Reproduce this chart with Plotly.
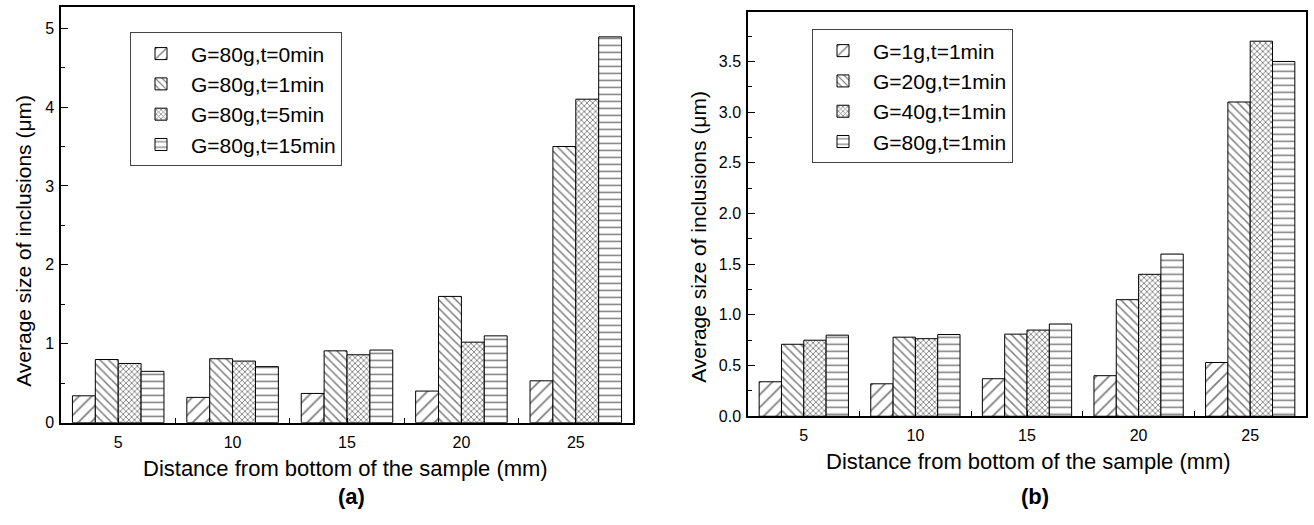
import plotly.graph_objects as go

# Distance from the bottom of the sample (mm)
distance_mm = [5, 10, 15, 20, 25]

# Panel (a): G = 80g, varying holding time
a_names = ["G=80g,t=0min", "G=80g,t=1min", "G=80g,t=5min", "G=80g,t=15min"]
a_t0 = [0.34, 0.32, 0.37, 0.40, 0.53]
a_t1 = [0.80, 0.81, 0.91, 1.60, 3.50]
a_t5 = [0.75, 0.78, 0.86, 1.02, 4.10]
a_t15 = [0.65, 0.71, 0.92, 1.10, 4.89]

# Panel (b): t = 1min, varying G
b_names = ["G=1g,t=1min", "G=20g,t=1min", "G=40g,t=1min", "G=80g,t=1min"]
b_g1 = [0.34, 0.32, 0.37, 0.40, 0.53]
b_g20 = [0.71, 0.78, 0.81, 1.15, 3.10]
b_g40 = [0.75, 0.765, 0.85, 1.40, 3.70]
b_g80 = [0.80, 0.806, 0.91, 1.60, 3.50]

W, H = 1314, 525
FONT = "Liberation Sans, Arial, sans-serif"

# hatch shape, spacing, line solidity for the four series
patterns = [("/", 9, 0.2), ("\\", 6, 0.25), ("x", 4, 0.4), ("-", 7, 0.22)]


def px_x(p):
    return p / W


def px_y(p):
    return 1 - p / H


fig = go.Figure()


def hatched(shape, size, solidity):
    return dict(color="white", line=dict(color="black", width=1),
                pattern=dict(shape=shape, size=size, solidity=solidity,
                             fgcolor="black", bgcolor="white"))


for series, name, pat in zip([a_t0, a_t1, a_t5, a_t15], a_names, patterns):
    fig.add_trace(go.Bar(x=distance_mm, y=series, name=name, xaxis="x", yaxis="y",
                         legend="legend", marker=hatched(*pat)))

for series, name, pat in zip([b_g1, b_g20, b_g40, b_g80], b_names, patterns):
    fig.add_trace(go.Bar(x=distance_mm, y=series, name=name, xaxis="x2", yaxis="y2",
                         legend="legend2", marker=hatched(*pat)))

xaxis_common = dict(
    range=[2.5, 27.5], tickvals=distance_mm, ticks="inside", ticklen=5,
    tickwidth=1, tickcolor="black", showline=True, linecolor="black",
    linewidth=1.5, mirror=True, showgrid=False, zeroline=False,
    ticklabelstandoff=4,
    tickfont=dict(family=FONT, size=16, color="black"),
    minor=dict(tickvals=[7.5, 12.5, 17.5, 22.5], ticks="inside", ticklen=5,
               tickcolor="black", tickwidth=1),
)
yaxis_common = dict(
    ticks="inside", ticklen=7, tickwidth=1, tickcolor="black",
    showline=True, linecolor="black", linewidth=1.5, mirror=True,
    showgrid=False, zeroline=False, ticklabelstandoff=2,
    tickfont=dict(family=FONT, size=16, color="black"),
)

legend_common = dict(
    xanchor="left", yanchor="top", bgcolor="white", bordercolor="#444",
    borderwidth=1, font=dict(family=FONT, size=21, color="black"),
    tracegroupgap=0, itemwidth=50, traceorder="normal",
)

fig.update_layout(
    width=W, height=H, margin=dict(l=0, r=0, t=0, b=0),
    paper_bgcolor="white", plot_bgcolor="white",
    barmode="group", bargap=0.2, bargroupgap=0,
    font=dict(family=FONT, color="black"),
    xaxis=dict(domain=[px_x(61), px_x(633)], anchor="y", **xaxis_common),
    yaxis=dict(domain=[px_y(430), px_y(7)], anchor="x", range=[0, 5.27],
               dtick=1, tick0=0,
               minor=dict(dtick=0.5, ticks="inside", ticklen=4,
                          tickcolor="black", tickwidth=1),
               **yaxis_common),
    xaxis2=dict(domain=[px_x(748), px_x(1306)], anchor="y2", **xaxis_common),
    yaxis2=dict(domain=[px_y(423.5), px_y(12)], anchor="x2", range=[0, 3.99],
                dtick=0.5, tick0=0, tickformat=".1f",
                minor=dict(dtick=0.25, ticks="inside", ticklen=4,
                           tickcolor="black", tickwidth=1),
                **yaxis_common),
    legend=dict(x=px_x(130), y=px_y(33), **legend_common),
    legend2=dict(x=px_x(812), y=px_y(30), **legend_common),
    showlegend=True,
)

annotations = [
    # x-axis titles
    dict(text="Distance from bottom of the sample (mm)", x=px_x(345), y=px_y(477),
         font_size=22),
    dict(text="Distance from bottom of the sample (mm)", x=px_x(1028), y=px_y(470),
         font_size=22),
    # y-axis titles
    dict(text="Average size of inclusions (μm)", x=px_x(24), y=px_y(245),
         textangle=-90, font_size=21),
    dict(text="Average size of inclusions (μm)", x=px_x(699), y=px_y(241),
         textangle=-90, font_size=21),
    # panel labels
    dict(text="<b>(a)</b>", x=px_x(351), y=px_y(505), font_size=22),
    dict(text="<b>(b)</b>", x=px_x(1035), y=px_y(505), font_size=22),
]
for ann in annotations:
    fig.add_annotation(xref="paper", yref="paper", showarrow=False,
                       xanchor="center", yanchor="middle",
                       font_family=FONT, font_color="black", **ann)

fig.write_html("out.html")
